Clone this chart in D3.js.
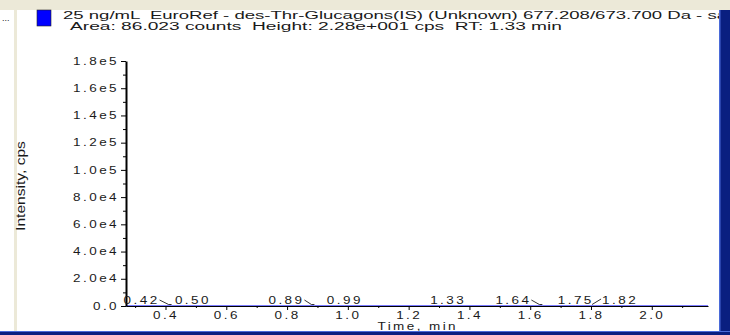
<!DOCTYPE html>
<html>
<head>
<meta charset="utf-8">
<script src="https://cdn.jsdelivr.net/npm/d3@7"></script>
<style>
  body { margin: 0; background: #fff; }
  svg { display: block; font-family: "Liberation Sans", Arial, sans-serif; }
</style>
</head>
<body>
<div id="chart"></div>
<script>
// chromatogram data (intensity in cps, basically flat at this scale)
var traceTime = [0.27, 0.42, 0.50, 0.89, 0.99, 1.33, 1.64, 1.75, 1.82, 2.185];
var traceInt  = [0, 9, 7, 12, 10, 22.8, 11, 8, 9, 0];
var peakTimes = [0.42, 0.50, 0.89, 0.99, 1.33, 1.64, 1.75, 1.82];
var xTicks = [0.4, 0.6, 0.8, 1.0, 1.2, 1.4, 1.6, 1.8, 2.0];
var yTicks = [0, 2e4, 4e4, 6e4, 8e4, 1e5, 1.2e5, 1.4e5, 1.6e5, 1.8e5];
var titleLine1 = "25 ng/mL  EuroRef - des-Thr-Glucagons(IS) (Unknown) 677.208/673.700 Da - sa";
var titleLine2 = "Area: 86.023 counts  Height: 2.28e+001 cps  RT: 1.33 min";

var W = 730, H = 335;
var SX = 1.35;   // screenshot text is wide and loosely spaced
var LS = "1.8px";
var txtCol = "#1a1a1a";

var svg = d3.select("#chart").append("svg")
    .attr("width", W)
    .attr("height", H);

// window chrome
svg.append("rect").attr("x", 0).attr("y", 0).attr("width", W).attr("height", 10).attr("fill", "#ece9d8");
svg.append("rect").attr("x", 14).attr("y", 10).attr("width", 3).attr("height", H).attr("fill", "#ece9d8");
svg.append("text").attr("x", 2).attr("y", 21).attr("font-size", 9).attr("fill", txtCol).text("...");

var x = d3.scaleLinear().domain([0.27, 2.185]).range([126, 708]);
var y = d3.scaleLinear().domain([0, 1.8e5]).range([306, 61]);

// legend swatch + title
svg.append("rect").attr("x", 37).attr("y", 10).attr("width", 14).attr("height", 16)
    .attr("fill", "#0000ff").attr("stroke", "#222").attr("stroke-width", 0.6);
svg.append("text").attr("x", 63).attr("y", 19).attr("font-size", 10).attr("fill", txtCol)
    .style("white-space", "pre")
    .attr("textLength", 664).attr("lengthAdjust", "spacingAndGlyphs")
    .text(titleLine1);
svg.append("text").attr("x", 70).attr("y", 30).attr("font-size", 10).attr("fill", txtCol)
    .style("white-space", "pre")
    .attr("textLength", 492).attr("lengthAdjust", "spacingAndGlyphs")
    .text(titleLine2);

// trace first, axes drawn over it
svg.append("path")
    .datum(traceTime.map(function (t, i) { return [t, traceInt[i]]; }))
    .attr("fill", "none").attr("stroke", "#0000ff").attr("stroke-width", 1)
    .attr("d", d3.line().x(function (d) { return x(d[0]); }).y(function (d) { return y(d[1]); }));

function styleTicks(sel) {
    sel.attr("font-size", 10).attr("font-family", "Liberation Sans, Arial, sans-serif")
        .attr("fill", txtCol)
        .style("letter-spacing", LS);
}

// y axis
var yFmt = function (v) { return v === 0 ? "0.0" : d3.format(".1e")(v).replace("+", ""); };
var yAxis = svg.append("g")
    .attr("transform", "translate(126,0)")
    .call(d3.axisLeft(y).tickValues(yTicks).tickFormat(yFmt).tickSize(5).tickSizeOuter(0));
yAxis.select(".domain").attr("stroke-width", 2);
yAxis.selectAll("text").call(styleTicks)
    .attr("x", -7 / SX)
    .attr("transform", "scale(" + SX + ",1)");
svg.append("g")
    .attr("transform", "translate(126,0)")
    .call(d3.axisLeft(y).tickValues(d3.range(1e4, 1.8e5, 2e4)).tickFormat("").tickSize(3))
    .select(".domain").remove();

// x axis
var xAxis = svg.append("g")
    .attr("transform", "translate(0,306)")
    .call(d3.axisBottom(x).tickValues(xTicks).tickFormat(d3.format(".1f")).tickSize(4).tickSizeOuter(0));
xAxis.selectAll("text").call(styleTicks)
    .attr("y", 5.5)
    .attr("transform", "scale(" + SX + ",1)");
svg.append("g")
    .attr("transform", "translate(0,306)")
    .call(d3.axisBottom(x).tickValues([0.3, 0.5, 0.7, 0.9, 1.1, 1.3, 1.5, 1.7, 1.9, 2.1]).tickFormat("").tickSize(2))
    .select(".domain").remove();

svg.append("text")
    .attr("transform", "translate(" + x(1.23) + ",330) scale(" + SX + ",1)")
    .attr("text-anchor", "middle").attr("font-size", 10).attr("fill", txtCol)
    .style("letter-spacing", LS)
    .text("Time, min");

svg.append("text")
    .attr("transform", "translate(25,186) rotate(-90) scale(1.3,1)")
    .attr("text-anchor", "middle").attr("font-size", 12).attr("fill", txtCol)
    .text("Intensity, cps");

// peak labels, some pushed aside with a leader line
var labelShift = [-30, -3, -28, 0, 0, -29, 0, 23];
var labW = 34;
var pk = svg.append("g");
peakTimes.forEach(function (t, i) {
    var px = x(t), lx = px + labelShift[i];
    pk.append("text")
        .attr("transform", "translate(" + lx + ",304) scale(" + SX + ",1)")
        .attr("text-anchor", "middle").attr("font-size", 10).attr("fill", txtCol)
        .style("letter-spacing", LS)
        .text(d3.format(".2f")(t));
    if (labelShift[i] < -10) {
        pk.append("path").attr("fill", "none").attr("stroke", "#000").attr("stroke-width", 0.8)
            .attr("d", "M" + (lx + labW / 2 + 1) + ",300L" + (px - 3) + ",304.5L" + px + ",304.5");
    } else if (labelShift[i] > 10) {
        pk.append("path").attr("fill", "none").attr("stroke", "#000").attr("stroke-width", 0.8)
            .attr("d", "M" + (px - 5) + ",304.5L" + (lx - labW / 2 - 2) + ",299");
    }
});

// right and bottom frame
svg.append("rect").attr("x", 719).attr("y", 10).attr("width", 11).attr("height", H).attr("fill", "#0a1f80");
svg.append("rect").attr("x", 719).attr("y", 10).attr("width", 1.5).attr("height", H).attr("fill", "#4a6ad8");
svg.append("rect").attr("x", 0).attr("y", 331).attr("width", W).attr("height", 4).attr("fill", "#0a1f80");
svg.append("rect").attr("x", 0).attr("y", 331).attr("width", W).attr("height", 1).attr("fill", "#4a6ad8");
</script>
</body>
</html>
